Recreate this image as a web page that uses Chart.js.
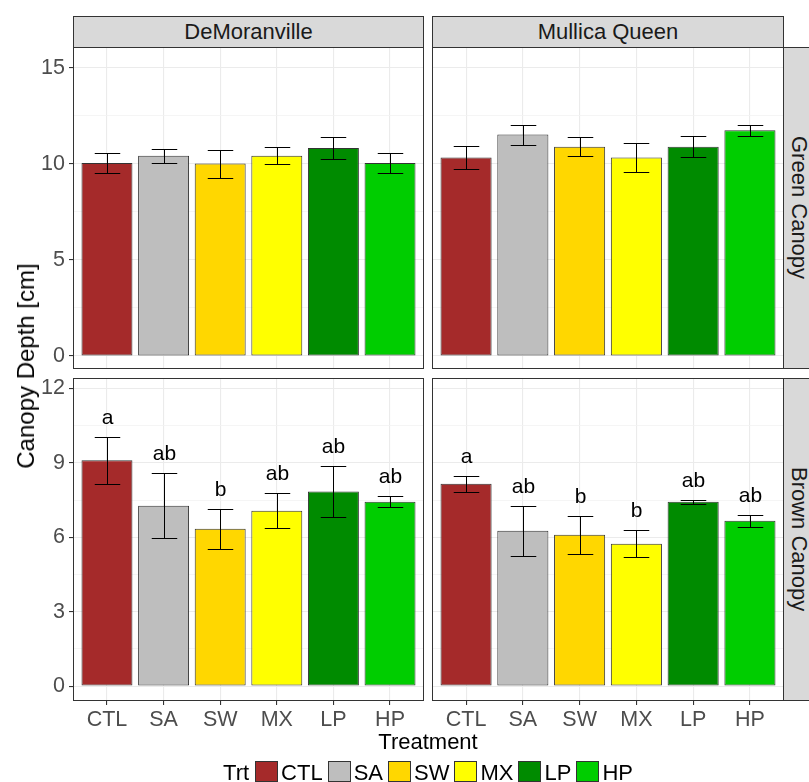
<!DOCTYPE html>
<html><head><meta charset="utf-8">
<script src="https://cdn.jsdelivr.net/npm/chart.js@4.4.1/dist/chart.umd.min.js"></script>
<style>
html,body{margin:0;padding:0;background:#fff;}
body{width:809px;height:782px;overflow:hidden;position:relative;font-family:"Liberation Sans",Arial,sans-serif;}
canvas{position:absolute;}
.strip{position:absolute;background:#D9D9D9;border:1px solid #333;box-sizing:border-box;color:#1A1A1A;font-size:22px;display:flex;align-items:center;justify-content:center;white-space:nowrap;}
.stripR{writing-mode:vertical-rl;}
.title{position:absolute;color:#000;font-size:22px;white-space:nowrap;}
#legend{position:absolute;left:73px;width:711px;top:759px;height:23px;display:flex;align-items:flex-end;justify-content:center;font-size:22px;color:#000;}
#legend .key{width:23px;height:21px;border:1px solid #333;box-sizing:border-box;margin:0 3px 0 4px;}
#legend .lab{line-height:22px;position:relative;top:2px;margin-right:1px;}
</style></head><body>
<script>
// ---- data ----
const categories = ['CTL','SA','SW','MX','LP','HP'];
const cultivars = ['DeMoranville','Mullica Queen'];
const canopies = ['Green Canopy','Brown Canopy'];
const greenDeMoranville   = [10.05,10.43,10.02,10.43,10.83,10.05];
const greenDeMoranvilleSE = [0.50,0.37,0.73,0.45,0.57,0.50];
const greenMullica        = [10.33,11.53,10.90,10.33,10.90,11.75];
const greenMullicaSE      = [0.60,0.52,0.50,0.74,0.55,0.29];
const brownDeMoranville   = [9.10,7.27,6.34,7.07,7.84,7.43];
const brownDeMoranvilleSE = [0.96,1.31,0.81,0.70,1.04,0.23];
const brownMullica        = [8.16,6.26,6.10,5.74,7.43,6.67];
const brownMullicaSE      = [0.32,1.01,0.77,0.55,0.08,0.24];
const lettersDeMoranville = ['a','ab','b','ab','ab','ab'];
const lettersMullica      = ['a','ab','b','b','ab','ab'];
const greenTicks = [0,5,10,15];
const brownTicks = [0,3,6,9,12];
const legendTitle = 'Trt';
const xTitle = 'Treatment';
const yTitle = 'Canopy Depth [cm]';

// ---- styles ----
const colors = ['#A52A2A','#BEBEBE','#FFD700','#FFFF00','#008B00','#00CD00'];
const FAM = '"Liberation Sans", Arial, sans-serif';
Chart.defaults.font.family = FAM;

const borderPlugin = {
  id:'panelBorder',
  afterDraw(chart){
    const a = chart.chartArea, c = chart.ctx;
    c.save(); c.strokeStyle='#333'; c.lineWidth=1;
    c.strokeRect(a.left+0.5,a.top+0.5,a.right-a.left-1,a.bottom-a.top-1);
    c.restore();
  }
};
const errPlugin = {
  id:'errBars',
  afterDatasetsDraw(chart){
    const cfg = chart.config.options.plugins.errBars;
    const xs = chart.scales.x, ys = chart.scales.y, c = chart.ctx;
    const half = (xs.getPixelForValue(1)-xs.getPixelForValue(0))*0.225;
    c.save();
    c.strokeStyle='#000'; c.lineWidth=1;
    cfg.values.forEach((v,i)=>{
      const x = Math.round(xs.getPixelForValue(i))+0.5;
      const yt = Math.round(ys.getPixelForValue(v+cfg.se[i]))+0.5;
      const yb = Math.round(ys.getPixelForValue(v-cfg.se[i]))+0.5;
      c.beginPath();
      c.moveTo(x,yt); c.lineTo(x,yb);
      c.moveTo(x-half,yt); c.lineTo(x+half,yt);
      c.moveTo(x-half,yb); c.lineTo(x+half,yb);
      c.stroke();
      if (cfg.letters){
        c.fillStyle='#000'; c.font='21px '+FAM; c.textAlign='center'; c.textBaseline='alphabetic';
        c.fillText(cfg.letters[i], x, yt-13.5);
      }
    });
    c.restore();
  }
};

function panel(p){
  const cv = document.createElement('canvas');
  cv.width=p.w; cv.height=p.h;
  cv.style.left=p.x+'px'; cv.style.top=p.y+'px';
  cv.style.width=p.w+'px'; cv.style.height=p.h+'px';
  document.body.appendChild(cv);
  const step = p.ticks[1]-p.ticks[0];
  const all = [];
  for (let v=p.ticks[0]; v<=p.ticks[p.ticks.length-1]+1e-9; v+=step/2) all.push(+v.toFixed(3));
  const isMajor = v => p.ticks.some(t=>Math.abs(t-v)<1e-6);
  new Chart(cv,{
    type:'bar',
    data:{datasets:[{
      data:p.values.map((v,i)=>({x:i,y:v})),
      backgroundColor:colors, borderColor:'#333', borderWidth:1,
      barPercentage:0.9, categoryPercentage:1, borderSkipped:false
    }]},
    options:{
      responsive:false, animation:false, devicePixelRatio:1,
      layout:{padding:{top:5,right:5,bottom:p.padBottom,left:0}},
      plugins:{legend:{display:false},tooltip:{enabled:false},
        errBars:{values:p.values,se:p.se,letters:p.letters}},
      scales:{
        x:{type:'linear',min:-0.6,max:5.6,offset:false,
          grid:{offset:false,color:'#EBEBEB',lineWidth:1.1,drawTicks:p.showX,tickLength:4,tickColor:'#333'},
          border:{display:false},
          afterBuildTicks:s=>{s.ticks=categories.map((c,i)=>({value:i}));},
          ticks:{display:p.showX,callback:v=>categories[v],color:'#4D4D4D',font:{size:21.5,family:FAM},padding:2,maxRotation:0,minRotation:0,autoSkip:false},
          afterFit:s=>{s.height=p.xh;s.paddingLeft=0;s.paddingRight=0;}
        },
        y:{type:'linear',min:p.min,max:p.max,
          grid:{color:ctx=>isMajor(ctx.tick.value)?'#EBEBEB':'#F3F3F3',
                lineWidth:ctx=>isMajor(ctx.tick.value)?1.1:0.8,
                drawTicks:p.showY,tickLength:4,
                tickColor:ctx=>isMajor(ctx.tick.value)?'#333':'rgba(0,0,0,0)'},
          border:{display:false},
          afterBuildTicks:s=>{s.ticks=all.map(v=>({value:v}));},
          ticks:{display:p.showY,callback:v=>isMajor(v)?String(v):'',color:'#4D4D4D',font:{size:21.5,family:FAM},padding:4,autoSkip:false},
          afterFit:s=>{s.width=p.yw;s.paddingTop=0;s.paddingBottom=0;}
        }
      }
    },
    plugins:[borderPlugin,errPlugin]
  });
}

// top row (Green Canopy)
panel({x:0,y:42,w:429,h:332,yw:73,xh:0,padBottom:5,showX:false,showY:true,min:-0.68,max:16.09,ticks:greenTicks,values:greenDeMoranville,se:greenDeMoranvilleSE});
panel({x:427,y:42,w:362,h:332,yw:5,xh:0,padBottom:5,showX:false,showY:false,min:-0.68,max:16.09,ticks:greenTicks,values:greenMullica,se:greenMullicaSE});
// bottom row (Brown Canopy)
panel({x:0,y:373,w:429,h:409,yw:73,xh:81,padBottom:0,showX:true,showY:true,min:-0.60,max:12.42,ticks:brownTicks,values:brownDeMoranville,se:brownDeMoranvilleSE,letters:lettersDeMoranville});
panel({x:427,y:373,w:362,h:409,yw:5,xh:81,padBottom:0,showX:true,showY:false,min:-0.60,max:12.42,ticks:brownTicks,values:brownMullica,se:brownMullicaSE,letters:lettersMullica});

function div(cls,txt,css){const d=document.createElement('div');d.className=cls;d.textContent=txt;Object.assign(d.style,css);document.body.appendChild(d);return d;}
div('strip',cultivars[0],{left:'73px',top:'16px',width:'351px',height:'32px'});
div('strip',cultivars[1],{left:'432px',top:'16px',width:'352px',height:'32px'});
div('strip stripR',canopies[0],{left:'783px',top:'47px',width:'31px',height:'322px'});
div('strip stripR',canopies[1],{left:'783px',top:'378px',width:'31px',height:'323px'});
div('title',xTitle,{left:'428px',top:'742px',transform:'translate(-50%,-50%)'});
div('title',yTitle,{left:'26px',top:'366px',fontSize:'24px',transform:'translate(-50%,-50%) rotate(-90deg)'});

const lg = document.createElement('div'); lg.id='legend'; document.body.appendChild(lg);
const t = document.createElement('span'); t.className='lab'; t.textContent=legendTitle; t.style.marginRight='2px'; lg.appendChild(t);
categories.forEach((c,i)=>{
  const k=document.createElement('span'); k.className='key'; k.style.background=colors[i]; lg.appendChild(k);
  const l=document.createElement('span'); l.className='lab'; l.textContent=c; lg.appendChild(l);
});
</script>
</body></html>
